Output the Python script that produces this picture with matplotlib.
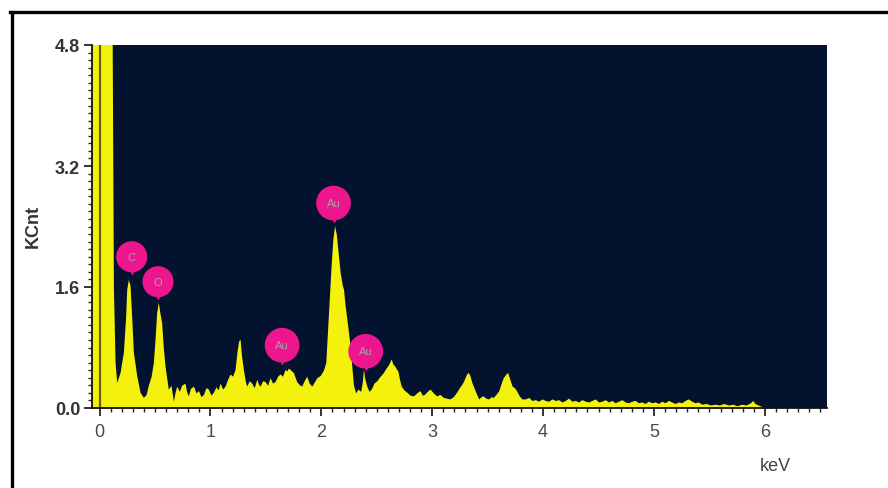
import matplotlib
matplotlib.use("Agg")
import matplotlib.pyplot as plt
from matplotlib.lines import Line2D
from matplotlib.ticker import MultipleLocator, FixedLocator

plt.rcParams["font.family"] = ["Liberation Sans", "DejaVu Sans"]

# ---- data ----
energy_kev = [
    -0.07, 0.00, 0.11, 0.125, 0.14, 0.155, 0.185, 0.215, 0.235, 0.245, 0.26, 0.275, 0.29, 0.305,
    0.335, 0.365, 0.395, 0.42, 0.44, 0.465, 0.485, 0.50, 0.515, 0.53, 0.545, 0.56, 0.575, 0.59,
    0.62, 0.645, 0.666, 0.68, 0.696, 0.72, 0.74, 0.77, 0.785, 0.80, 0.82, 0.847, 0.87, 0.892,
    0.915, 0.937, 0.96, 0.982, 1.005, 1.027, 1.05, 1.07, 1.087, 1.11, 1.132, 1.155, 1.177, 1.20,
    1.222, 1.24, 1.255, 1.267, 1.28, 1.297, 1.315, 1.327, 1.35, 1.372, 1.395, 1.418, 1.435, 1.448,
    1.47, 1.493, 1.515, 1.538, 1.56, 1.583, 1.605, 1.628, 1.65, 1.673, 1.69, 1.703, 1.725, 1.748,
    1.765, 1.778, 1.80, 1.823, 1.845, 1.869, 1.89, 1.914, 1.935, 1.959, 1.99, 2.019, 2.04, 2.06,
    2.09, 2.105, 2.12, 2.135, 2.145, 2.17, 2.19, 2.20, 2.215, 2.23, 2.245, 2.26, 2.275, 2.29,
    2.31, 2.33, 2.355, 2.37, 2.38, 2.39, 2.41, 2.43, 2.45, 2.475, 2.50, 2.53, 2.56, 2.58, 2.60,
    2.615, 2.63, 2.645, 2.66, 2.675, 2.69, 2.705, 2.72, 2.745, 2.77, 2.80, 2.83, 2.86, 2.89,
    2.91, 2.93, 2.955, 2.98, 3.01, 3.04, 3.07, 3.10, 3.13, 3.16, 3.19, 3.22, 3.245, 3.27, 3.29,
    3.31, 3.325, 3.34, 3.355, 3.37, 3.395, 3.42, 3.44, 3.46, 3.485, 3.51, 3.53, 3.55, 3.575,
    3.60, 3.62, 3.64, 3.665, 3.68, 3.70, 3.72, 3.74, 3.76, 3.785, 3.81, 3.84, 3.87, 3.90, 3.93,
    3.96, 3.99, 4.02, 4.05, 4.08, 4.11, 4.14, 4.17, 4.20, 4.23, 4.26, 4.29, 4.32, 4.35, 4.38,
    4.41, 4.44, 4.47, 4.50, 4.53, 4.56, 4.59, 4.62, 4.65, 4.68, 4.71, 4.74, 4.77, 4.80, 4.83,
    4.86, 4.89, 4.92, 4.95, 4.98, 5.01, 5.04, 5.07, 5.10, 5.13, 5.16, 5.19, 5.22, 5.25, 5.28,
    5.31, 5.34, 5.37, 5.40, 5.43, 5.47, 5.51, 5.55, 5.59, 5.63, 5.67, 5.71, 5.75, 5.79, 5.83,
    5.87, 5.89, 5.91, 5.94, 5.97, 6.00, 6.56,
]
counts_kcnt = [
    6.0, 6.0, 6.0, 1.6, 0.60, 0.34, 0.47, 0.74, 1.20, 1.57, 1.70, 1.62, 1.20, 0.74,
    0.43, 0.21, 0.14, 0.18, 0.30, 0.42, 0.60, 0.90, 1.26, 1.40, 1.25, 1.13, 0.80, 0.56,
    0.25, 0.30, 0.09, 0.20, 0.29, 0.22, 0.30, 0.33, 0.22, 0.16, 0.26, 0.29, 0.20, 0.23,
    0.15, 0.18, 0.27, 0.25, 0.17, 0.21, 0.28, 0.24, 0.33, 0.25, 0.29, 0.38, 0.45, 0.42,
    0.51, 0.75, 0.89, 0.91, 0.70, 0.51, 0.35, 0.29, 0.36, 0.33, 0.27, 0.38, 0.31, 0.29,
    0.36, 0.35, 0.30, 0.40, 0.33, 0.35, 0.42, 0.45, 0.42, 0.51, 0.49, 0.53, 0.50, 0.47,
    0.40, 0.35, 0.31, 0.29, 0.36, 0.42, 0.33, 0.29, 0.34, 0.40, 0.43, 0.50, 0.60, 1.13,
    1.93, 2.25, 2.41, 2.30, 2.15, 1.79, 1.62, 1.57, 1.35, 1.18, 1.00, 0.82, 0.55, 0.30,
    0.20, 0.25, 0.22, 0.35, 0.52, 0.40, 0.29, 0.22, 0.25, 0.33, 0.36, 0.42, 0.47, 0.52, 0.56,
    0.60, 0.65, 0.58, 0.56, 0.52, 0.49, 0.38, 0.29, 0.24, 0.21, 0.17, 0.16, 0.20, 0.23,
    0.17, 0.18, 0.22, 0.25, 0.20, 0.16, 0.18, 0.14, 0.13, 0.12, 0.15, 0.21, 0.27, 0.32, 0.38,
    0.45, 0.47, 0.43, 0.35, 0.29, 0.20, 0.12, 0.15, 0.16, 0.13, 0.12, 0.15, 0.14, 0.18,
    0.23, 0.32, 0.40, 0.45, 0.47, 0.38, 0.29, 0.27, 0.23, 0.16, 0.12, 0.12, 0.14, 0.10, 0.11,
    0.09, 0.12, 0.10, 0.09, 0.12, 0.10, 0.11, 0.08, 0.10, 0.13, 0.09, 0.10, 0.08, 0.11, 0.09,
    0.08, 0.10, 0.12, 0.08, 0.09, 0.11, 0.08, 0.10, 0.07, 0.09, 0.11, 0.08, 0.07, 0.09, 0.10,
    0.07, 0.08, 0.06, 0.09, 0.07, 0.08, 0.06, 0.09, 0.07, 0.10, 0.08, 0.06, 0.08, 0.07, 0.10,
    0.12, 0.09, 0.07, 0.08, 0.05, 0.06, 0.04, 0.05, 0.04, 0.06, 0.04, 0.05, 0.03, 0.05, 0.04,
    0.07, 0.10, 0.06, 0.04, 0.02, 0.0, 0.0,
]

# element peak labels
label_text = ["C", "O", "Au", "Au", "Au"]
label_kev = [0.29, 0.527, 1.646, 2.11, 2.40]
label_kcnt = [2.00, 1.67, 0.83, 2.71, 0.75]

x_ticks = [0, 1, 2, 3, 4, 5, 6]
y_ticks = [0.0, 1.6, 3.2, 4.8]
y_tick_labels = ["0.0", "1.6", "3.2", "4.8"]

# ---- figure ----
fig = plt.figure(figsize=(8.88, 4.89), dpi=100)
ax = fig.add_axes([92 / 888, 1 - 409 / 489, (827 - 92) / 888, (409 - 46) / 489])
navy = "#02122f"
yellow = "#f4f20c"
pink = "#ee168e"
ax.set_facecolor(navy)

ax.fill_between(energy_kev, 0, counts_kcnt, color=yellow, lw=0, zorder=2)
ax.axvline(0, color="#6a6200", lw=1.6, zorder=3)

ax.set_xlim(-0.068, 6.56)
ax.set_ylim(0, 4.8)

for s in ["top", "right"]:
    ax.spines[s].set_visible(False)
for s in ["left", "bottom"]:
    ax.spines[s].set_color("#111111")
    ax.spines[s].set_linewidth(1.3)
    ax.spines[s].set_zorder(5)

ax.xaxis.set_major_locator(FixedLocator(x_ticks))
ax.xaxis.set_minor_locator(MultipleLocator(0.1))
ax.yaxis.set_major_locator(FixedLocator(y_ticks))
ax.yaxis.set_minor_locator(MultipleLocator(0.1))
ax.set_yticklabels(y_tick_labels)

ax.tick_params(axis="both", which="major", length=5.5, width=1.2, color="#111111")
ax.tick_params(axis="both", which="minor", length=3, width=1.0, color="#222222")
ax.tick_params(axis="x", which="major", pad=5.5, labelsize=13, labelcolor="#4a4a4a")
ax.tick_params(axis="y", which="major", pad=3, labelsize=13, labelcolor="#333333")
for t in ax.get_yticklabels():
    t.set_fontweight("bold")

# element labels: pink circles with a pointer
px_per_unit = (409 - 46) / 4.8
for txt, xv, yv in zip(label_text, label_kev, label_kcnt):
    r = (17 if txt == "Au" else 15) / px_per_unit
    ax.plot([xv], [yv - r], marker="v", ms=5, color=pink, mec="none", zorder=6)
    ax.text(xv, yv, txt, ha="center", va="center", fontsize=8, color="#a8a0a8",
            zorder=7,
            bbox=dict(boxstyle="circle,pad=0.95", fc=pink, ec="none"))

fig.text(33 / 888, 1 - 226 / 489, "KCnt", rotation=90, ha="center", va="center",
         fontsize=13, fontweight="bold", color="#333333")
fig.text(775 / 888, 1 - 467 / 489, "keV", ha="center", va="center",
         fontsize=13, color="#444444")

# outer black frame (top and left edges visible)
fig.add_artist(Line2D([11.5 / 888, 11.5 / 888], [0, 1 - 13 / 489], color="black",
                      lw=2.4, transform=fig.transFigure))
fig.add_artist(Line2D([10 / 888, 1.0], [1 - 13 / 489, 1 - 13 / 489], color="black",
                      lw=2.4, transform=fig.transFigure))

fig.savefig("out.png", dpi=100, facecolor="white")
